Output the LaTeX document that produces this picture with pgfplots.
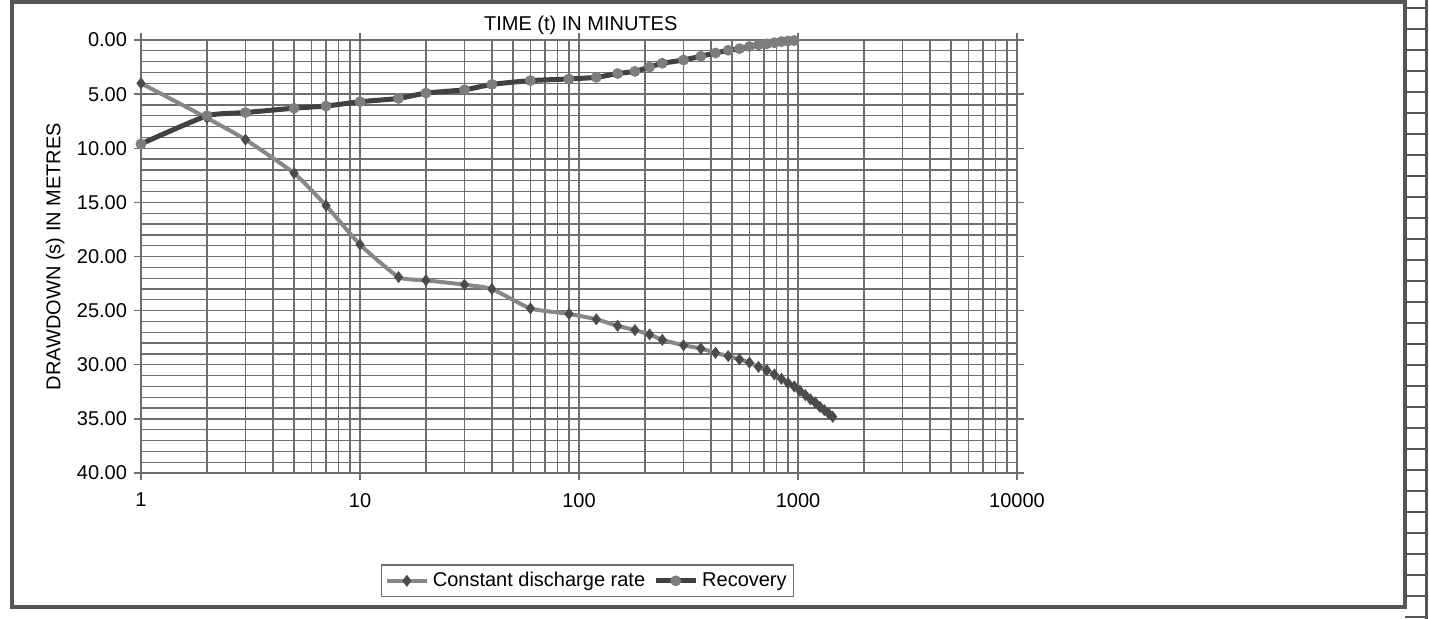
\documentclass[border=0pt]{standalone}
\usepackage{fontspec}
\setmainfont{Liberation Sans}
\usepackage{pgfplots}
\pgfplotsset{compat=1.18}

\definecolor{framec}{RGB}{85,85,85}
\definecolor{gridc}{RGB}{110,110,110}
\definecolor{cdline}{RGB}{135,135,135}
\definecolor{cdmark}{RGB}{75,75,75}
\definecolor{recline}{RGB}{65,65,65}
\definecolor{recmark}{RGB}{125,125,125}

\begin{document}
\begin{tikzpicture}
  \useasboundingbox (0,0) rectangle (714.5pt,-309.5pt);
  % outer frame of the sheet
  \draw[framec, line width=2pt] (6pt,-1pt) rectangle (702.5pt,-303.5pt);
  \draw[framec, line width=1.5pt] (713pt,0pt) -- (713pt,-309.5pt);
  \foreach \k in {0,...,29}
    \draw[framec, line width=1pt] (702.5pt,-\k*10.5pt-4pt) -- (713pt,-\k*10.5pt-4pt);

  \begin{axis}[
    at={(70.5pt,-20pt)}, anchor=north west,
    scale only axis,
    width=438pt, height=216.5pt,
    font=\fontsize{10}{12}\selectfont,
    xmode=log,
    xmin=1, xmax=10000,
    ymin=0, ymax=40,
    y dir=reverse,
    xtick={1,10,100,1000,10000},
    xticklabels={1,10,100,1000,10000},
    ytick={0,5,...,40},
    yticklabels={0.00,5.00,10.00,15.00,20.00,25.00,30.00,35.00,40.00},
    minor ytick={1,2,...,39},
    grid=both,
    major grid style={gridc, line width=0.65pt},
    minor grid style={gridc, line width=0.65pt},
    axis line style={gridc, line width=0.65pt},
    tick align=outside,
    major tick length=3.5pt,
    minor tick length=0pt,
    tick style={gridc, line width=0.65pt},
    xticklabel style={yshift=-3pt},
    every axis y label/.style={at={(axis description cs:-0.098,0.5)}, rotate=90, anchor=center},
    ylabel={DRAWDOWN (s) IN METRES},
    legend columns=2,
    legend style={at={(0.510,-0.249)}, anchor=center, draw=gridc, line width=0.6pt,
      font=\fontsize{10}{12}\selectfont, inner sep=1.5pt,
      /tikz/every even column/.append style={column sep=2pt}},
    legend image code/.code={
      \draw[mark repeat=2, mark phase=2, #1] plot coordinates {(0pt,0pt) (10pt,0pt) (20pt,0pt)};},
    clip=false,
  ]
    \addplot[cdline, line width=2pt, smooth, tension=0.3,
      mark=diamond*, mark size=2.7pt,
      mark options={fill=cdmark, draw=cdmark, line width=0.4pt, solid}]
      coordinates {
      (1,4.0) (2,7.2) (3,9.2) (5,12.3) (7,15.3) (10,18.9) (15,21.9) (20,22.2)
      (30,22.6) (40,23.0) (60,24.8) (90,25.3) (120,25.8) (150,26.4) (180,26.8)
      (210,27.2) (240,27.7) (300,28.2) (360,28.5) (420,28.9) (480,29.2)
      (540,29.5) (600,29.8) (660,30.2) (720,30.5) (780,30.9) (840,31.3)
      (900,31.7) (960,32.0) (1020,32.4) (1080,32.8) (1140,33.2) (1200,33.5)
      (1260,33.9) (1320,34.2) (1380,34.5) (1440,34.8)
      };
    \addlegendentry{Constant discharge rate}

    \addplot[recline, line width=2.5pt, smooth, tension=0.3,
      mark=*, mark size=2.5pt,
      mark options={fill=recmark, draw=recmark, line width=0.4pt, solid}]
      coordinates {
      (1,9.6) (2,7.0) (3,6.7) (5,6.3) (7,6.1) (10,5.7) (15,5.4) (20,4.9)
      (30,4.6) (40,4.1) (60,3.75) (90,3.6) (120,3.45) (150,3.1) (180,2.9)
      (210,2.5) (240,2.15) (300,1.85) (360,1.5) (420,1.2) (480,0.95)
      (540,0.8) (600,0.6) (660,0.45) (720,0.35) (780,0.25) (840,0.15)
      (900,0.1) (960,0.05)
      };
    \addlegendentry{Recovery}

    \node[font=\fontsize{10}{12}\selectfont] at (axis description cs:0.502,1.035) {TIME (t) IN MINUTES};
  \end{axis}
\end{tikzpicture}
\end{document}
